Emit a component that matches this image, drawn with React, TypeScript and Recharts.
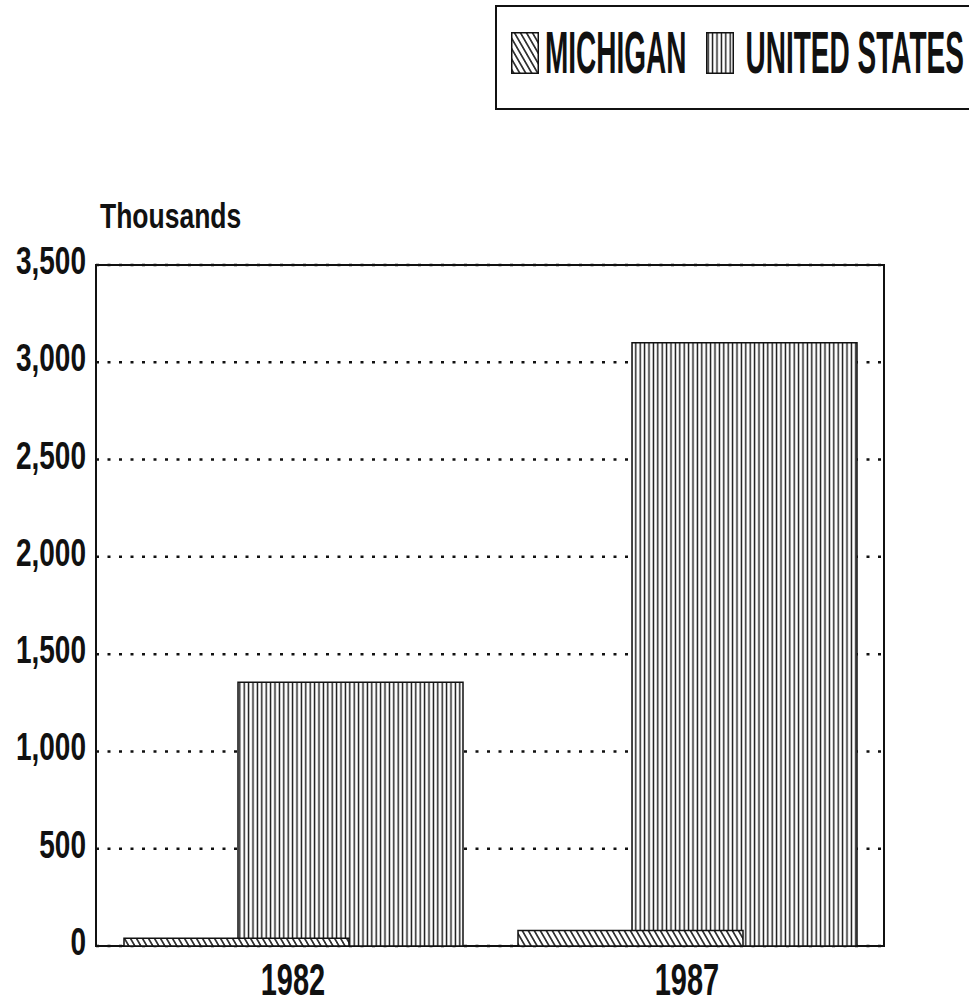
import React from 'react';
import { BarChart, Bar, XAxis, YAxis, CartesianGrid, Legend, ReferenceArea, Label } from 'recharts';

const years = ['1982', '1987'];
const michigan = [40, 80];
const unitedStates = [1355, 3100];
const yTicks = [0, 500, 1000, 1500, 2000, 2500, 3000, 3500];
const seriesNames = ['MICHIGAN', 'UNITED STATES'];
const yUnit = 'Thousands';

const data = years.map((year, i) => ({ year, mi: michigan[i], us: unitedStates[i] }));

const FONT = "'Liberation Sans', Arial, Helvetica, sans-serif";
const INK = '#111';

const fmt = (v: number) => v.toLocaleString('en-US');

const YTick = (props: any) => {
  const { x, y, payload } = props;
  return (
    <g transform={`translate(${x - 2},${y + 9}) scale(1,1.4)`}>
      <text x={0} y={0} textAnchor="end" fontFamily={FONT} fontWeight="bold" fontSize={28} fill={INK}>
        {fmt(payload.value)}
      </text>
    </g>
  );
};

const XTick = (props: any) => {
  const { x, y, payload } = props;
  return (
    <g transform={`translate(${x},${y + 41}) scale(1,1.5)`}>
      <text x={0} y={0} textAnchor="middle" fontFamily={FONT} fontWeight="bold" fontSize={29} fill={INK}>
        {payload.value}
      </text>
    </g>
  );
};

const UnitLabel = (props: any) => {
  const vb = props.viewBox || { x: 0, y: 265, width: 96, height: 681 };
  return (
    <g transform={`translate(${vb.x + vb.width + 4},${vb.y - 37}) scale(1,1.3)`}>
      <text x={0} y={0} textAnchor="start" fontFamily={FONT} fontWeight="bold" fontSize={26.5} fill={INK}>
        {yUnit}
      </text>
    </g>
  );
};

const Swatch = ({ kind }: { kind: string }) => {
  const id = kind === 'MICHIGAN' ? 'lgMi' : 'lgUs';
  return (
    <svg width={28} height={42} style={{ display: 'block', flex: '0 0 auto' }}>
      <defs>
        {kind === 'MICHIGAN' ? (
          <pattern id={id} patternUnits="userSpaceOnUse" width={5.2} height={6} patternTransform="rotate(-30)">
            <rect width={5.2} height={6} fill="#fff" />
            <line x1={2.6} y1={-1} x2={2.6} y2={7} stroke={INK} strokeWidth={1.5} />
          </pattern>
        ) : (
          <pattern id={id} patternUnits="userSpaceOnUse" width={4.4} height={10}>
            <rect width={4.4} height={10} fill="#fff" />
            <line x1={2.2} y1={0} x2={2.2} y2={10} stroke={INK} strokeWidth={1.4} />
          </pattern>
        )}
      </defs>
      <rect x={0.75} y={0.75} width={26.5} height={40.5} fill={`url(#${id})`} stroke={INK} strokeWidth={1.5} />
    </svg>
  );
};

const LegendBox = (props: any) => {
  const payload = props.payload || [];
  const items = seriesNames.filter((n) => payload.some((p: any) => p.value === n));
  return (
    <div
      style={{
        position: 'relative',
        width: 495,
        height: 105,
        border: `2px solid ${INK}`,
        boxSizing: 'border-box',
        background: '#fff',
        display: 'flex',
        alignItems: 'flex-start',
        paddingLeft: 14,
        paddingTop: 25,
      }}
    >
      {items.map((name, i) => (
        <div key={name} style={{ display: 'flex', alignItems: 'flex-start', marginLeft: i === 0 ? 0 : 19 }}>
          <Swatch kind={name} />
          <span
            style={{
              display: 'inline-block',
              marginLeft: i === 0 ? 6 : 12,
              marginTop: -7,
              fontFamily: FONT,
              fontWeight: 700,
              fontSize: 28,
              lineHeight: '28px',
              color: INK,
              whiteSpace: 'nowrap',
              transform: 'scaleY(2.1)',
              transformOrigin: '0 0',
            }}
          >
            {name}
          </span>
        </div>
      ))}
    </div>
  );
};

export default function App() {
  return (
    <div style={{ position: 'absolute', left: 0, top: 0, width: 969, height: 1005, background: '#fff', overflow: 'hidden' }}>
      <svg width={0} height={0} style={{ position: 'absolute' }}>
        <defs>
          <pattern id="miHatch" patternUnits="userSpaceOnUse" width={5.2} height={6} patternTransform="rotate(-30)">
            <rect width={5.2} height={6} fill="#fff" />
            <line x1={2.6} y1={-1} x2={2.6} y2={7} stroke={INK} strokeWidth={1.5} />
          </pattern>
          <pattern id="usStripes" patternUnits="userSpaceOnUse" width={4.4} height={10}>
            <rect width={4.4} height={10} fill="#fff" />
            <line x1={2.2} y1={0} x2={2.2} y2={10} stroke={INK} strokeWidth={1.4} />
          </pattern>
        </defs>
      </svg>
      <BarChart
        width={969}
        height={1005}
        data={data}
        margin={{ top: 265, right: 85, bottom: 0, left: 0 }}
        barSize={225}
        barGap={-111}
      >
        <CartesianGrid vertical={false} stroke={INK} strokeWidth={2.5} strokeDasharray="3 8.5" />
        <XAxis dataKey="year" height={59} axisLine={false} tickLine={false} tick={<XTick />} interval={0} />
        <XAxis xAxisId="u" dataKey="year" hide />
        <YAxis
          domain={[0, 3500]}
          ticks={yTicks}
          width={96}
          axisLine={false}
          tickLine={false}
          tick={<YTick />}
          interval={0}
        >
          <Label content={UnitLabel} />
        </YAxis>
        <Bar xAxisId="u" dataKey="pad" legendType="none" fill="none" isAnimationActive={false} />
        <Bar
          xAxisId="u"
          dataKey="us"
          name="UNITED STATES"
          fill="url(#usStripes)"
          stroke={INK}
          strokeWidth={1.5}
          isAnimationActive={false}
        />
        <Bar dataKey="mi" name="MICHIGAN" fill="url(#miHatch)" stroke={INK} strokeWidth={1.5} isAnimationActive={false} />
        <Bar dataKey="pad" legendType="none" fill="none" isAnimationActive={false} />
        <ReferenceArea y1={0} y2={3500} fill="none" stroke={INK} strokeWidth={2} ifOverflow="visible" />
        <Legend
          verticalAlign="middle"
          align="center"
          layout="horizontal"
          wrapperStyle={{ position: 'absolute', top: 5, left: 495, width: 495, height: 105 }}
          content={<LegendBox />}
        />
      </BarChart>
    </div>
  );
}
